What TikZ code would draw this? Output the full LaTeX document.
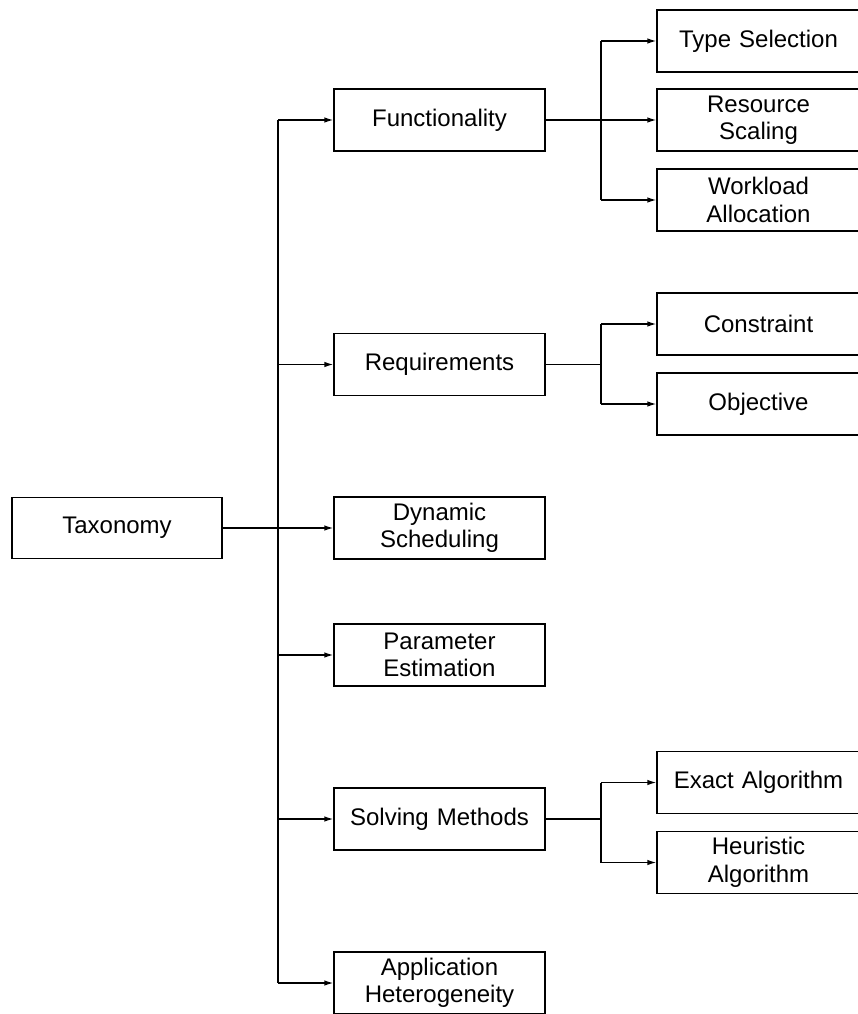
\documentclass[tikz,border=0pt]{standalone}
\usepackage{fontspec}
\setmainfont{Liberation Sans}
\usetikzlibrary{arrows.meta}
\begin{document}
\begin{tikzpicture}[x=1pt,y=-1pt,
  box/.style={draw, line width=1.3pt, align=center, inner sep=0pt,
    font=\fontsize{24}{27.5}\selectfont},
  midbox/.style={box, minimum width=211pt, minimum height=62pt, text width=200pt},
  rightbox/.style={box, minimum width=203pt, minimum height=62pt, text width=195pt},
  wire/.style={line width=1.3pt},
  arr/.style={wire, -{Latex[length=9pt,width=5.5pt]}}]
\useasboundingbox (0,0) rectangle (858,1014);
\node[box, minimum width=210pt, minimum height=61pt, text width=200pt] (tax) at (117,528) {Taxonomy};
\node[midbox] (fun) at (439.5,120) {Functionality};
\node[midbox] (req) at (439.5,364.5) {Requirements};
\node[midbox] (dyn) at (439.5,528) {Dynamic\\Scheduling};
\node[midbox] (par) at (439.5,655) {Parameter\\Estimation};
\node[midbox] (sol) at (439.5,819) {Solving Methods};
\node[midbox] (app) at (439.5,983) {Application\\Heterogeneity};
\node[rightbox] (typ) at (758.5,41) {Type Selection};
\node[rightbox] (res) at (758.5,120) {Resource\\Scaling};
\node[rightbox] (wor) at (758.5,200) {Workload\\Allocation};
\node[rightbox] (con) at (758.5,324) {Constraint};
\node[rightbox] (obj) at (758.5,404) {Objective};
\node[rightbox] (exa) at (758.5,782.5) {Exact Algorithm};
\node[rightbox] (heu) at (758.5,862.5) {Heuristic\\Algorithm};
\coordinate (tx) at (278,0);
\coordinate (jx) at (601,0);
% trunk
\draw[wire, line width=2.2pt] (tax.east) -- (tx |- tax.east);
\draw[wire] (tx |- fun.west) -- (tx |- app.west);
\foreach \n in {fun,req,dyn,par,sol,app}
  \draw[arr] (tx |- \n.west) -- (\n.west);
% functionality branch
\draw[wire] (fun.east) -- (jx |- fun.east);
\draw[wire] (jx |- typ.west) -- (jx |- wor.west);
\foreach \n in {typ,res,wor}
  \draw[arr] (jx |- \n.west) -- (\n.west);
% requirements branch
\draw[wire] (req.east) -- (jx |- req.east);
\draw[wire] (jx |- con.west) -- (jx |- obj.west);
\foreach \n in {con,obj}
  \draw[arr] (jx |- \n.west) -- (\n.west);
% solving branch
\draw[wire] (sol.east) -- (jx |- sol.east);
\draw[wire] (jx |- exa.west) -- (jx |- heu.west);
\foreach \n in {exa,heu}
  \draw[arr] (jx |- \n.west) -- (\n.west);
\end{tikzpicture}
\end{document}
